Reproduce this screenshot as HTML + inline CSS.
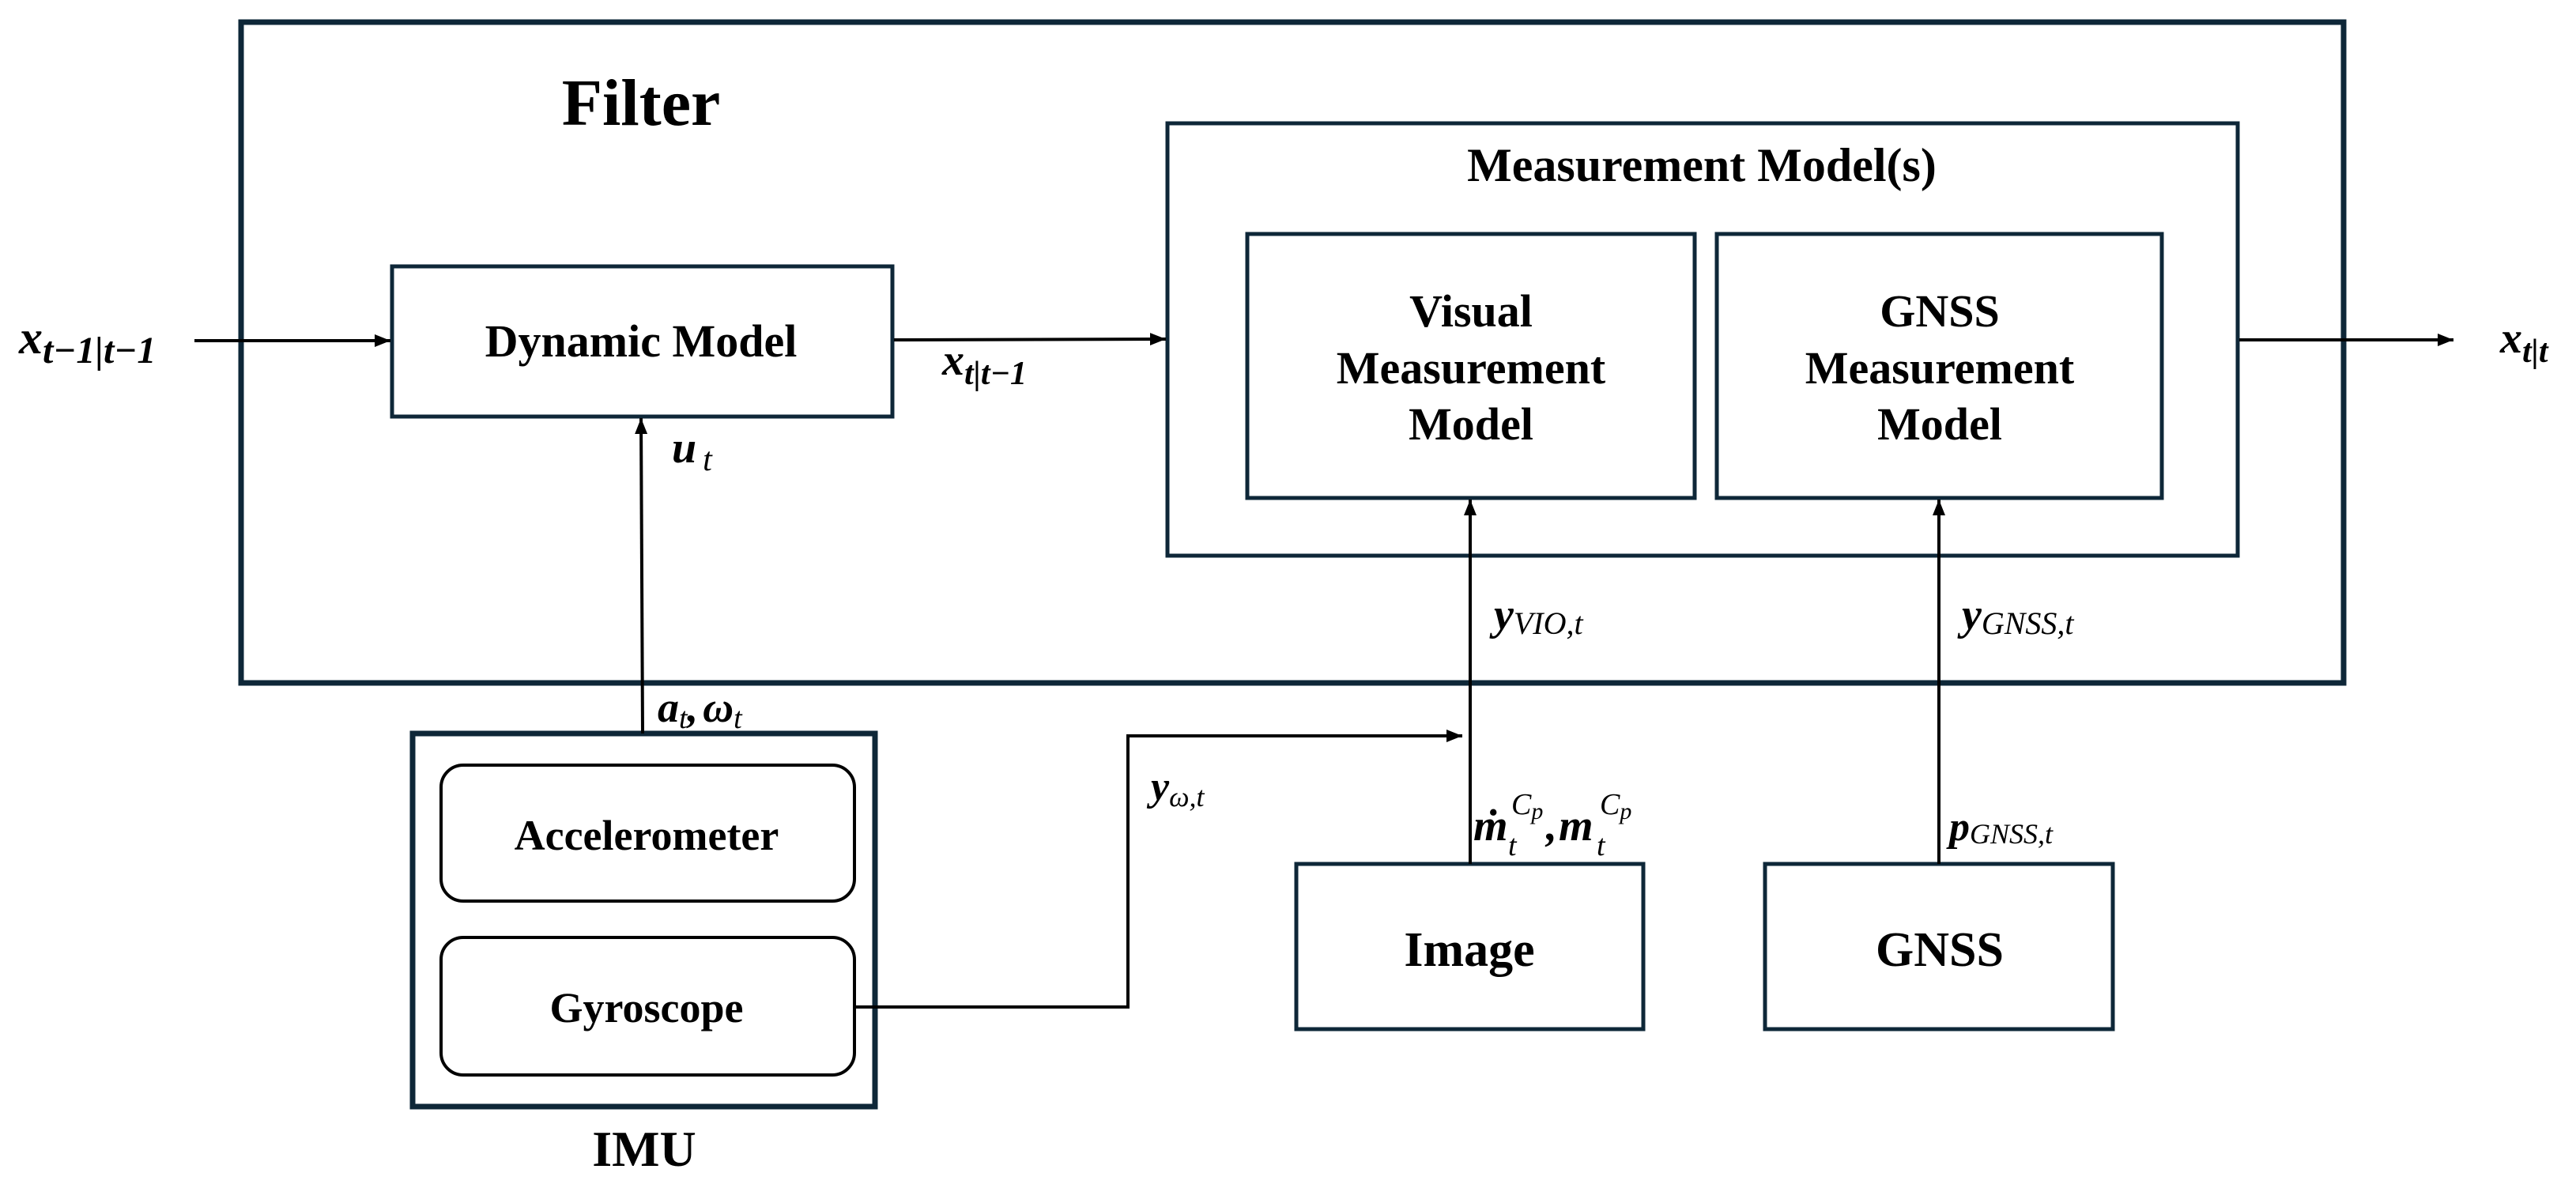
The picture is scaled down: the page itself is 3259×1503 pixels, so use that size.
<!DOCTYPE html>
<html><head><meta charset="utf-8"><style>
html,body{margin:0;padding:0;background:#fff;}
svg{display:block;}
.t{font-family:"Liberation Serif",serif;font-weight:bold;fill:#000;}
.m{font-family:"Liberation Serif","DejaVu Serif",serif;font-style:italic;fill:#000;}
</style></head><body>
<svg width="3259" height="1503" viewBox="0 0 3259 1503" xmlns="http://www.w3.org/2000/svg">
<defs>
<marker id="A" viewBox="0 0 10 10" markerWidth="20" markerHeight="20" refX="10" refY="5" orient="auto" markerUnits="userSpaceOnUse">
<path d="M0,1 L10,5 L0,9 z" fill="#000"/>
</marker>
</defs>
<g fill="none" stroke="#0e2738">
<rect x="305" y="28" width="2660" height="836" stroke-width="7"/>
<rect x="496" y="337" width="633" height="190" stroke-width="5"/>
<rect x="1477" y="156" width="1354" height="547" stroke-width="5"/>
<rect x="1578" y="296" width="566" height="334" stroke-width="5"/>
<rect x="2172" y="296" width="563" height="334" stroke-width="5"/>
<rect x="522" y="928" width="585" height="472" stroke-width="7"/>
<rect x="1640" y="1093" width="439" height="209" stroke-width="5"/>
<rect x="2233" y="1093" width="440" height="209" stroke-width="5"/>
</g>
<g fill="none" stroke="#000" stroke-width="4">
<rect x="558" y="968" width="523" height="172" rx="28"/>
<rect x="558" y="1186" width="523" height="174" rx="28"/>
</g>
<g stroke="#000" stroke-width="4" fill="none">
<line x1="246" y1="431" x2="494" y2="431" marker-end="url(#A)"/>
<line x1="1131" y1="430" x2="1475" y2="429" marker-end="url(#A)"/>
<line x1="2833" y1="430" x2="3104" y2="430" marker-end="url(#A)"/>
<line x1="813" y1="928" x2="811" y2="529" marker-end="url(#A)"/>
<polyline points="1081,1274 1427,1274 1427,931 1850,931" marker-end="url(#A)"/>
<line x1="1860" y1="1093" x2="1860" y2="632" marker-end="url(#A)"/>
<line x1="2453" y1="1093" x2="2453" y2="632" marker-end="url(#A)"/>
</g>
<g class="t" text-anchor="middle">
<text x="811" y="158" font-size="84">Filter</text>
<text x="811" y="451" font-size="58">Dynamic Model</text>
<text x="2153" y="229" font-size="60">Measurement Model(s)</text>
<text x="1861" y="413" font-size="58">Visual</text>
<text x="1861" y="485" font-size="58">Measurement</text>
<text x="1861" y="556" font-size="58">Model</text>
<text x="2454" y="413" font-size="58">GNSS</text>
<text x="2454" y="485" font-size="58">Measurement</text>
<text x="2454" y="556" font-size="58">Model</text>
<text x="818" y="1075" font-size="54">Accelerometer</text>
<text x="818" y="1293" font-size="54">Gyroscope</text>
<text x="815" y="1475" font-size="64">IMU</text>
<text x="1859" y="1222" font-size="62">Image</text>
<text x="2454" y="1222" font-size="62">GNSS</text>
</g>
<g class="m" font-weight="bold">
<text x="24" y="447" font-size="60">x<tspan font-size="48" dy="12">t−1|t−1</tspan></text>
<text x="1192" y="474" font-size="56">x<tspan font-size="42" dy="12">t|t−1</tspan></text>
<text x="3163" y="446" font-size="56">x<tspan font-size="42" dy="12">t|t</tspan></text>
<text x="850" y="585" font-size="56">u<tspan font-size="42" font-weight="normal" dx="8" dy="10">t</tspan></text>
<text x="832" y="913" font-size="54">a<tspan font-size="38" font-weight="normal" dy="8">t</tspan><tspan dy="-8">,</tspan><tspan dx="6">ω</tspan><tspan font-size="38" font-weight="normal" dy="8">t</tspan></text>
<text x="1456" y="1012" font-size="52">y<tspan font-size="36" font-weight="normal" dy="8">ω,t</tspan></text>
<text x="1890" y="796" font-size="56">y<tspan font-size="40" font-weight="normal" dy="6">VIO,t</tspan></text>
<text x="2482" y="796" font-size="56">y<tspan font-size="40" font-weight="normal" dy="6">GNSS,t</tspan></text>
<text x="2466" y="1063" font-size="52">p<tspan font-size="36" font-weight="normal" dy="4">GNSS,t</tspan></text>
<text x="1864" y="1063" font-size="56">ṁ</text>
<text x="1908" y="1082" font-size="38" font-weight="normal">t</text>
<text x="1912" y="1030" font-size="38" font-weight="normal">C<tspan font-size="30" dy="6">p</tspan></text>
<text x="1956" y="1063" font-size="56">,</text>
<text x="1972" y="1063" font-size="56">m</text>
<text x="2020" y="1082" font-size="38" font-weight="normal">t</text>
<text x="2024" y="1030" font-size="38" font-weight="normal">C<tspan font-size="30" dy="6">p</tspan></text>
</g>
</svg>
</body></html>
